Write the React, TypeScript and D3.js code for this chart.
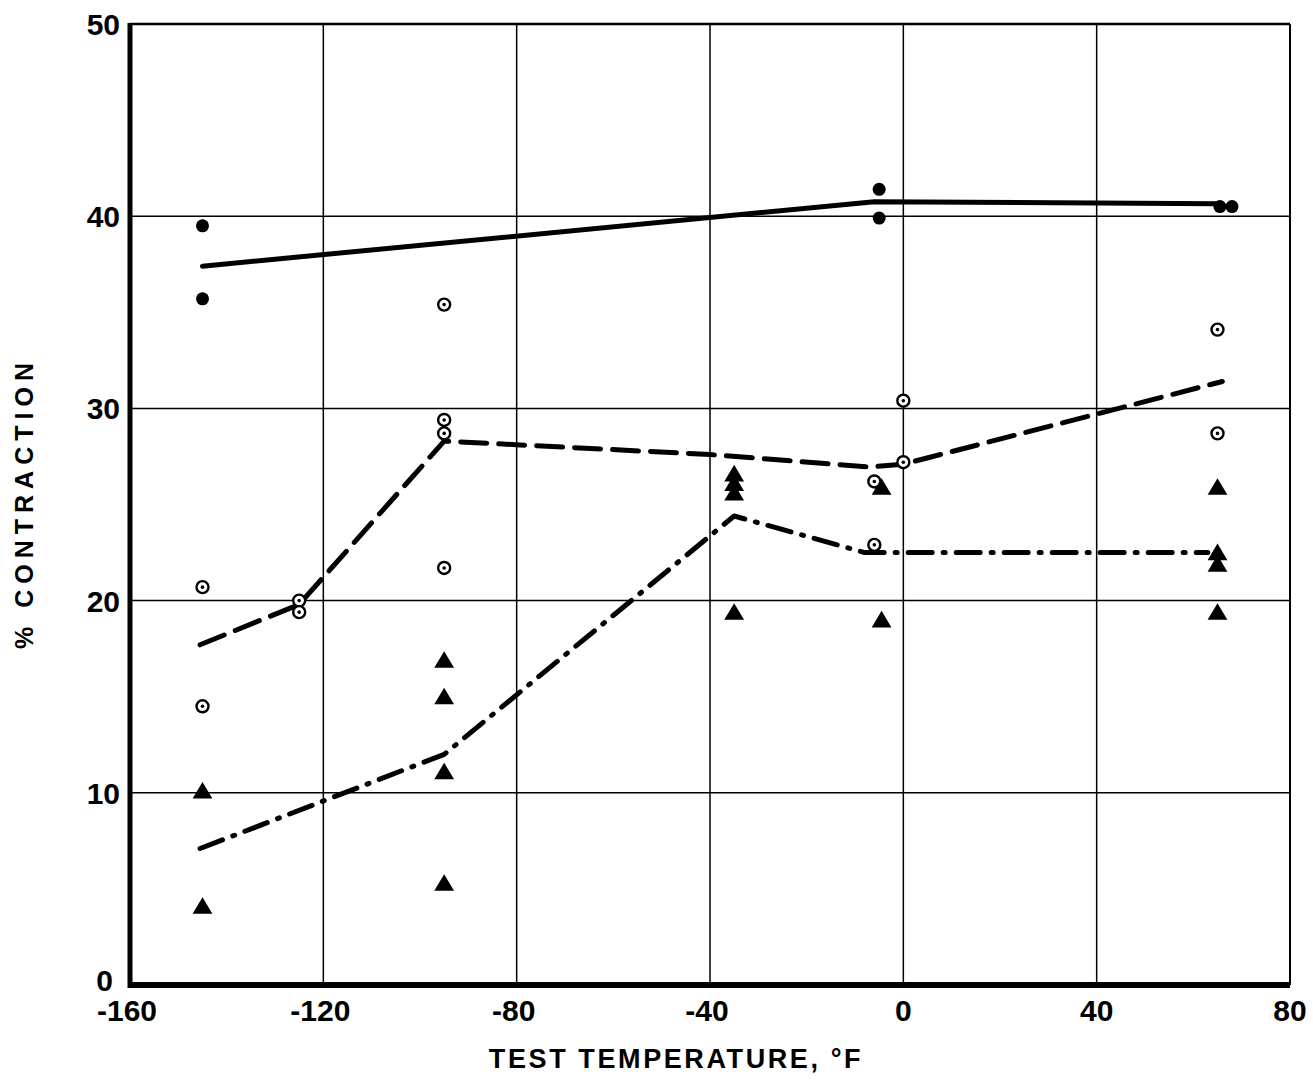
import React from 'react'
import * as d3 from 'd3'

// values
const solidT = [-145, -145, -5, -5, 65.5, 68]
const solidV = [39.5, 35.7, 41.4, 39.9, 40.5, 40.5]

const openT = [-145, -145, -125, -125, -95, -95, -95, -95, -6, -6, 0, 0, 65, 65]
const openV = [20.7, 14.5, 20.0, 19.4, 35.4, 29.4, 28.7, 21.7, 26.2, 22.9, 30.4, 27.2, 34.1, 28.7]

const triT = [-145, -145, -95, -95, -95, -95, -35, -35, -35, -35, -4.5, -4.5, 65, 65, 65, 65]
const triV = [10.1, 4.1, 16.9, 15.0, 11.1, 5.3, 26.6, 26.1, 25.6, 19.4, 25.9, 19.0, 25.9, 22.5, 21.9, 19.4]

const solidLineT = [-145, -6, 65]
const solidLineV = [37.4, 40.75, 40.65]

const dashLineT = [-145.5, -125, -95, -40, -7, 0, 66]
const dashLineV = [17.7, 19.8, 28.3, 27.6, 26.95, 27.1, 31.4]

const dashDotLineT = [-145.5, -95, -35, -8, 63]
const dashDotLineV = [7.1, 12.0, 24.4, 22.5, 22.5]

const xTicks = [-160, -120, -80, -40, 0, 40, 80]
const yTicks = [0, 10, 20, 30, 40, 50]

const W = 1313
const H = 1083
const left = 130
const right = 1290
const top = 24
const bottom = 985

const font = '"Liberation Sans", Arial, sans-serif'

export default function App() {
  const x = d3.scaleLinear().domain([-160, 80]).range([left, right])
  const y = d3.scaleLinear().domain([0, 50]).range([bottom, top])

  const line = d3.line<[number, number]>()
    .x((d) => x(d[0]))
    .y((d) => y(d[1]))

  const zip = (a: number[], b: number[]) => a.map((t, i) => [t, b[i]] as [number, number])

  const triPath = (cx: number, cy: number) => {
    const s = 9
    return `M${cx},${cy - s}L${cx + s * 1.1},${cy + s * 0.85}L${cx - s * 1.1},${cy + s * 0.85}Z`
  }

  return (
    <svg width={W} height={H} style={{ position: 'absolute', left: 0, top: 0, background: '#fff' }}>
      {/* grid */}
      <g stroke="#000" strokeWidth={1.5}>
        {xTicks.slice(1, -1).map((t) => (
          <line key={'gx' + t} x1={x(t)} x2={x(t)} y1={top} y2={bottom} />
        ))}
        {yTicks.slice(1, -1).map((v) => (
          <line key={'gy' + v} x1={left} x2={right} y1={y(v)} y2={y(v)} />
        ))}
        <line x1={left} x2={right} y1={top} y2={top} strokeWidth={2.5} />
        <line x1={right} x2={right} y1={top} y2={bottom} strokeWidth={2} />
      </g>
      <line x1={left} x2={left} y1={top - 1} y2={bottom + 3} stroke="#000" strokeWidth={5} />
      <line x1={left - 2} x2={right} y1={bottom} y2={bottom} stroke="#000" strokeWidth={6} />

      {/* curves */}
      <g fill="none" stroke="#000" strokeWidth={5} strokeLinecap="round" strokeLinejoin="round">
        <path d={line(zip(solidLineT, solidLineV)) || ''} />
        <path d={line(zip(dashLineT, dashLineV)) || ''} strokeDasharray="26 12" />
        <path d={line(zip(dashDotLineT, dashDotLineV)) || ''} strokeDasharray="24 11 2 11" />
      </g>

      {/* markers */}
      <g fill="#000">
        {solidT.map((t, i) => (
          <circle key={'s' + i} cx={x(t)} cy={y(solidV[i])} r={6.5} />
        ))}
      </g>
      <g>
        {openT.map((t, i) => (
          <g key={'o' + i}>
            <circle cx={x(t)} cy={y(openV[i])} r={6} fill="#fff" stroke="#000" strokeWidth={2.4} />
            <circle cx={x(t)} cy={y(openV[i])} r={1.8} fill="#000" />
          </g>
        ))}
      </g>
      <g fill="#000">
        {triT.map((t, i) => (
          <path key={'t' + i} d={triPath(x(t), y(triV[i]))} />
        ))}
      </g>

      {/* tick labels */}
      <g fontFamily={font} fontSize={30} fontWeight="bold" fill="#000">
        {xTicks.map((t) => (
          <text key={'xl' + t} x={x(t) + (t < 0 ? -3 : 0)} y={1021} textAnchor="middle">
            {t}
          </text>
        ))}
        {yTicks.map((v) => (
          <text key={'yl' + v} x={v === 0 ? 113 : 120} y={v === 0 ? 991 : y(v) + 11} textAnchor="end">
            {v}
          </text>
        ))}
      </g>

      {/* axis titles */}
      <text x={676} y={1068} textAnchor="middle" fontFamily={font} fontSize={27} fontWeight="bold" letterSpacing={2.6} fill="#000">
        TEST TEMPERATURE, °F
      </text>
      <text
        transform="translate(33,503) rotate(-90)"
        textAnchor="middle"
        fontFamily={font}
        fontSize={25}
        fontWeight="bold"
        letterSpacing={6}
        fill="#000"
      >
        % CONTRACTION
      </text>
    </svg>
  )
}
